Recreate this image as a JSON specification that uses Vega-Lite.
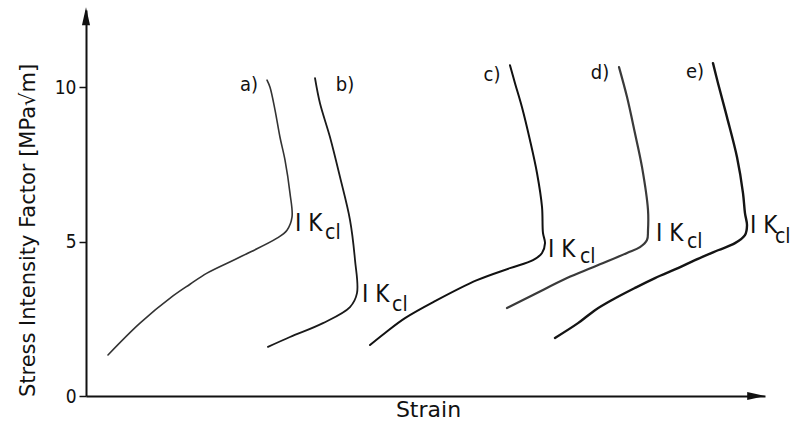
{
  "$schema": "https://vega.github.io/schema/vega-lite/v6.json",
  "width": 679,
  "height": 386,
  "autosize": {"type": "none"},
  "padding": {"left": 86, "top": 10, "right": 32, "bottom": 31},
  "background": "white",
  "config": {
    "view": {"stroke": null},
    "font": "DejaVu Sans Condensed, DejaVu Sans"
  },
  "encoding": {
    "x": {
      "field": "x", "type": "quantitative",
      "scale": {"domain": [0, 100], "nice": false, "zero": false},
      "axis": {
        "title": "Strain", "ticks": false, "labels": false, "grid": false,
        "domainColor": "#111", "domainWidth": 2,
        "titleFontSize": 22, "titleFontWeight": "normal", "titleColor": "#111",
        "titleX": 342, "titleY": 13, "titleBaseline": "middle", "titleAlign": "center",
        "titleFont": "DejaVu Sans"
      }
    },
    "y": {
      "field": "y", "type": "quantitative",
      "scale": {"domain": [0, 12.5], "nice": false},
      "axis": {
        "title": "Stress Intensity Factor [MPa√m]", "values": [0, 5, 10], "grid": false,
        "domainColor": "#111", "domainWidth": 2,
        "tickColor": "#111", "tickWidth": 1.5, "tickSize": 7,
        "labelFontSize": 19, "labelColor": "#111", "labelPadding": 3,
        "labelFont": "DejaVu Sans Condensed, DejaVu Sans",
        "titleFontSize": 21, "titleFontWeight": "normal", "titleColor": "#111",
        "titleFont": "DejaVu Sans",
        "titleAngle": -90, "titleX": -58, "titleY": 220, "titleBaseline": "middle", "titleAlign": "center"
      }
    }
  },
  "layer": [
    {
      "data": {"values": [
        {"curve": "a", "i": 1, "x": 3.24, "y": 1.33},
        {"curve": "a", "i": 2, "x": 7.95, "y": 2.36},
        {"curve": "a", "i": 3, "x": 12.81, "y": 3.24},
        {"curve": "a", "i": 4, "x": 15.32, "y": 3.62},
        {"curve": "a", "i": 5, "x": 17.82, "y": 3.98},
        {"curve": "a", "i": 6, "x": 22.68, "y": 4.5},
        {"curve": "a", "i": 7, "x": 28.13, "y": 5.11},
        {"curve": "a", "i": 8, "x": 29.6, "y": 5.37},
        {"curve": "a", "i": 9, "x": 30.34, "y": 5.79},
        {"curve": "a", "i": 10, "x": 30.04, "y": 6.57},
        {"curve": "a", "i": 11, "x": 29.31, "y": 7.64},
        {"curve": "a", "i": 12, "x": 28.57, "y": 8.38},
        {"curve": "a", "i": 13, "x": 27.84, "y": 9.26},
        {"curve": "a", "i": 14, "x": 27.1, "y": 10.0},
        {"curve": "a", "i": 15, "x": 26.66, "y": 10.23},

        {"curve": "b", "i": 1, "x": 26.8, "y": 1.59},
        {"curve": "b", "i": 2, "x": 30.04, "y": 1.91},
        {"curve": "b", "i": 3, "x": 34.9, "y": 2.36},
        {"curve": "b", "i": 4, "x": 38.88, "y": 2.88},
        {"curve": "b", "i": 5, "x": 39.91, "y": 3.33},
        {"curve": "b", "i": 6, "x": 39.62, "y": 4.4},
        {"curve": "b", "i": 7, "x": 38.88, "y": 5.7},
        {"curve": "b", "i": 8, "x": 37.41, "y": 7.09},
        {"curve": "b", "i": 9, "x": 35.94, "y": 8.38},
        {"curve": "b", "i": 10, "x": 34.46, "y": 9.48},
        {"curve": "b", "i": 11, "x": 33.73, "y": 10.29},

        {"curve": "c", "i": 1, "x": 41.83, "y": 1.65},
        {"curve": "c", "i": 2, "x": 44.04, "y": 2.04},
        {"curve": "c", "i": 3, "x": 46.98, "y": 2.52},
        {"curve": "c", "i": 4, "x": 51.4, "y": 3.07},
        {"curve": "c", "i": 5, "x": 57.58, "y": 3.75},
        {"curve": "c", "i": 6, "x": 62.44, "y": 4.14},
        {"curve": "c", "i": 7, "x": 65.83, "y": 4.4},
        {"curve": "c", "i": 8, "x": 67.16, "y": 4.63},
        {"curve": "c", "i": 9, "x": 67.6, "y": 4.95},
        {"curve": "c", "i": 10, "x": 67.3, "y": 5.28},
        {"curve": "c", "i": 11, "x": 67.16, "y": 6.12},
        {"curve": "c", "i": 12, "x": 66.42, "y": 7.22},
        {"curve": "c", "i": 13, "x": 65.39, "y": 8.28},
        {"curve": "c", "i": 14, "x": 64.21, "y": 9.35},
        {"curve": "c", "i": 15, "x": 63.18, "y": 10.13},
        {"curve": "c", "i": 16, "x": 62.44, "y": 10.71},

        {"curve": "d", "i": 1, "x": 62.0, "y": 2.85},
        {"curve": "d", "i": 2, "x": 65.83, "y": 3.27},
        {"curve": "d", "i": 3, "x": 70.84, "y": 3.82},
        {"curve": "d", "i": 4, "x": 74.67, "y": 4.17},
        {"curve": "d", "i": 5, "x": 79.68, "y": 4.63},
        {"curve": "d", "i": 6, "x": 81.59, "y": 4.82},
        {"curve": "d", "i": 7, "x": 82.62, "y": 5.05},
        {"curve": "d", "i": 8, "x": 82.77, "y": 5.37},
        {"curve": "d", "i": 9, "x": 82.77, "y": 6.02},
        {"curve": "d", "i": 10, "x": 81.89, "y": 7.41},
        {"curve": "d", "i": 11, "x": 80.85, "y": 8.51},
        {"curve": "d", "i": 12, "x": 79.68, "y": 9.68},
        {"curve": "d", "i": 13, "x": 78.5, "y": 10.65},

        {"curve": "e", "i": 1, "x": 69.07, "y": 1.88},
        {"curve": "e", "i": 2, "x": 72.46, "y": 2.36},
        {"curve": "e", "i": 3, "x": 74.96, "y": 2.78},
        {"curve": "e", "i": 4, "x": 77.47, "y": 3.11},
        {"curve": "e", "i": 5, "x": 80.85, "y": 3.5},
        {"curve": "e", "i": 6, "x": 83.8, "y": 3.82},
        {"curve": "e", "i": 7, "x": 87.19, "y": 4.14},
        {"curve": "e", "i": 8, "x": 89.69, "y": 4.4},
        {"curve": "e", "i": 9, "x": 93.08, "y": 4.72},
        {"curve": "e", "i": 10, "x": 95.58, "y": 4.95},
        {"curve": "e", "i": 11, "x": 97.05, "y": 5.21},
        {"curve": "e", "i": 12, "x": 97.35, "y": 5.53},
        {"curve": "e", "i": 13, "x": 97.05, "y": 5.92},
        {"curve": "e", "i": 14, "x": 96.76, "y": 6.57},
        {"curve": "e", "i": 15, "x": 95.88, "y": 7.73},
        {"curve": "e", "i": 16, "x": 94.4, "y": 9.03},
        {"curve": "e", "i": 17, "x": 93.08, "y": 10.13},
        {"curve": "e", "i": 18, "x": 92.34, "y": 10.78}
      ]},
      "mark": {"type": "line", "interpolate": "catmull-rom", "strokeJoin": "round", "strokeCap": "round", "clip": false},
      "encoding": {
        "detail": {"field": "curve"},
        "order": {"field": "i", "type": "quantitative"},
        "color": {"field": "curve", "type": "nominal", "legend": null,
          "scale": {"domain": ["a", "b", "c", "d", "e"], "range": ["#333333", "#1a1a1a", "#111111", "#3a3a3a", "#141414"]}},
        "strokeWidth": {"field": "curve", "type": "nominal", "legend": null,
          "scale": {"domain": ["a", "b", "c", "d", "e"], "range": [1.6, 2.4, 2.8, 1.6, 2.8]}}
      }
    },
    {
      "data": {"values": [
        {"t": "a)", "x": 24.0, "y": 10.06},
        {"t": "b)", "x": 38.14, "y": 10.06},
        {"t": "c)", "x": 59.79, "y": 10.39},
        {"t": "d)", "x": 75.7, "y": 10.45},
        {"t": "e)", "x": 89.69, "y": 10.49}
      ]},
      "mark": {"type": "text", "fontSize": 20, "color": "#111", "align": "center", "baseline": "middle", "clip": false},
      "encoding": {"text": {"field": "t"}}
    },
    {
      "data": {"values": [
        {"t": "I K", "x": 30.78, "y": 5.57},
        {"t": "I K", "x": 40.65, "y": 3.27},
        {"t": "I K", "x": 68.04, "y": 4.72},
        {"t": "I K", "x": 83.95, "y": 5.24},
        {"t": "I K", "x": 97.79, "y": 5.5}
      ]},
      "mark": {"type": "text", "fontSize": 24, "color": "#111", "align": "left", "baseline": "middle", "clip": false},
      "encoding": {"text": {"field": "t"}}
    },
    {
      "data": {"values": [
        {"t": "cl", "x": 35.2, "y": 5.28},
        {"t": "cl", "x": 45.07, "y": 2.94},
        {"t": "cl", "x": 72.75, "y": 4.5},
        {"t": "cl", "x": 88.51, "y": 4.98},
        {"t": "cl", "x": 101.47, "y": 5.15}
      ]},
      "mark": {"type": "text", "fontSize": 21, "color": "#111", "align": "left", "baseline": "middle", "clip": false},
      "encoding": {"text": {"field": "t"}}
    },
    {
      "data": {"values": [
        {"arrow": "y", "x": 0, "y": 12.3},
        {"arrow": "x", "x": 98.7, "y": 0}
      ]},
      "mark": {"type": "point", "filled": true, "size": 324, "color": "#111", "opacity": 1, "clip": false},
      "encoding": {
        "shape": {"field": "arrow", "type": "nominal", "legend": null,
          "scale": {"domain": ["x", "y"], "range": ["M1,0L-1,-0.45L-1,0.45Z", "M0,-1L0.45,1L-0.45,1Z"]}}
      }
    }
  ]
}
